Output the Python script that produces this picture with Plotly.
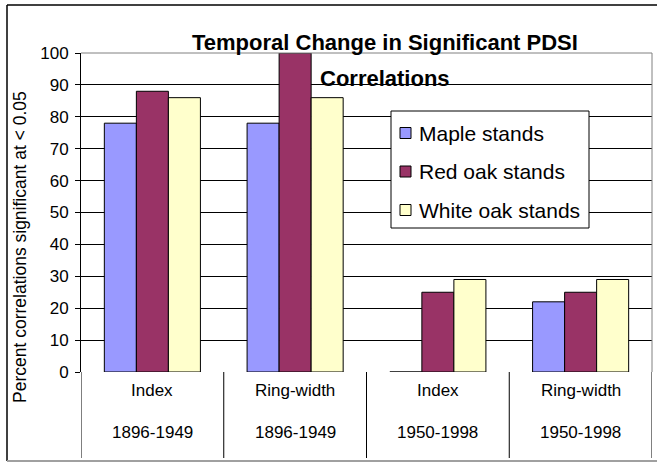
import plotly.graph_objects as go

# --- data ---
categories = ["Index 1896-1949", "Ring-width 1896-1949", "Index 1950-1998", "Ring-width 1950-1998"]
cat_top = ["Index", "Ring-width", "Index", "Ring-width"]
cat_bottom = ["1896-1949", "1896-1949", "1950-1998", "1950-1998"]
series_names = ["Maple stands", "Red oak stands", "White oak stands"]
maple = [78, 78, 0, 22]
red_oak = [88, 100, 25, 25]
white_oak = [86, 86, 29, 29]
colors = ["#9999FF", "#993366", "#FFFFCC"]

W, H = 657, 464
L, R, T, B = 81, 5, 53, 92
PW, PH = W - L - R, H - T - B

def px(x):
    return (x - L) / PW

def py(y):
    return (H - B - y) / PH

FONT = "Liberation Sans, Arial, sans-serif"

fig = go.Figure()
for i, (name, vals) in enumerate(zip(series_names, [maple, red_oak, white_oak])):
    fig.add_trace(go.Bar(
        x=categories, y=vals, name=name, showlegend=False,
        marker=dict(color=colors[i], line=dict(color="black", width=1)),
    ))

# category labels and divider lines under the plot
for i, (top, bot) in enumerate(zip(cat_top, cat_bottom)):
    fig.add_annotation(x=i, y=py(402), xref="x", yref="paper", text=top,
                       showarrow=False, font=dict(size=17, color="black"))
    fig.add_annotation(x=i, y=py(444), xref="x", yref="paper", text=bot,
                       showarrow=False, font=dict(size=17, color="black"))
for k in range(len(categories) + 1):
    fig.add_shape(type="line", xref="x", yref="paper", x0=k - 0.5, x1=k - 0.5,
                  y0=0, y1=py(458), line=dict(color="black", width=1))

# plot area border (grey top / right)
fig.add_shape(type="line", xref="paper", yref="paper", x0=0, x1=1, y0=1, y1=1,
              line=dict(color="#808080", width=1))
fig.add_shape(type="line", xref="paper", yref="paper", x0=1, x1=1, y0=0, y1=1,
              line=dict(color="#808080", width=1))

# chart border
fig.add_shape(type="line", xref="paper", yref="paper", x0=px(7), x1=px(660), y0=py(5), y1=py(5),
              line=dict(color="black", width=1.5))
fig.add_shape(type="line", xref="paper", yref="paper", x0=px(7), x1=px(7), y0=py(5), y1=py(461),
              line=dict(color="black", width=1.5))
fig.add_shape(type="line", xref="paper", yref="paper", x0=px(7), x1=px(660), y0=py(461), y1=py(461),
              line=dict(color="#A0A0A0", width=2))

# legend box drawn by hand (Excel-style spacing)
fig.add_shape(type="rect", xref="paper", yref="paper", x0=px(391), x1=px(589), y0=py(111), y1=py(228),
              line=dict(color="black", width=1), fillcolor="white", layer="above")
for i, name in enumerate(series_names):
    yc = 133 + i * 38.5
    fig.add_shape(type="rect", xref="paper", yref="paper", x0=px(400), x1=px(411),
                  y0=py(yc - 5.5), y1=py(yc + 5.5),
                  line=dict(color="black", width=1), fillcolor=colors[i], layer="above")
    fig.add_annotation(x=px(417), y=py(yc), xref="paper", yref="paper", text=name,
                       xanchor="left", yanchor="middle", showarrow=False,
                       font=dict(size=21, color="black"))

# title (two lines)
fig.add_annotation(x=px(385), y=py(28), xref="paper", yref="paper",
                   text="<b>Temporal Change in Significant PDSI</b>", showarrow=False,
                   font=dict(size=22, color="black"))
fig.add_annotation(x=px(385), y=py(64), xref="paper", yref="paper",
                   text="<b>Correlations</b>", showarrow=False,
                   font=dict(size=22, color="black"))

# y axis title
fig.add_annotation(x=px(20), y=py(247), xref="paper", yref="paper",
                   xanchor="center", yanchor="middle",
                   text="Percent correlations significant at < 0.05", textangle=-90,
                   showarrow=False, font=dict(size=17.5, color="black"))

fig.update_layout(
    width=W, height=H,
    margin=dict(l=L, r=R, t=T, b=B),
    paper_bgcolor="white", plot_bgcolor="white",
    font=dict(family=FONT, color="black"),
    barmode="group", bargap=0.327, bargroupgap=0,
    showlegend=False,
    xaxis=dict(showticklabels=False, showgrid=False, zeroline=False,
               range=[-0.5, 3.5], showline=False),
    yaxis=dict(range=[0, 100], dtick=10, showgrid=True, gridcolor="black", gridwidth=1,
               zeroline=False, showline=True, linecolor="black", linewidth=1,
               ticks="outside", ticklen=5, tickcolor="black", ticklabelstandoff=3,
               tickfont=dict(size=17)),
)

fig.write_html("out.html", config={"displayModeBar": False},
               post_script="document.body.style.margin='0';")
